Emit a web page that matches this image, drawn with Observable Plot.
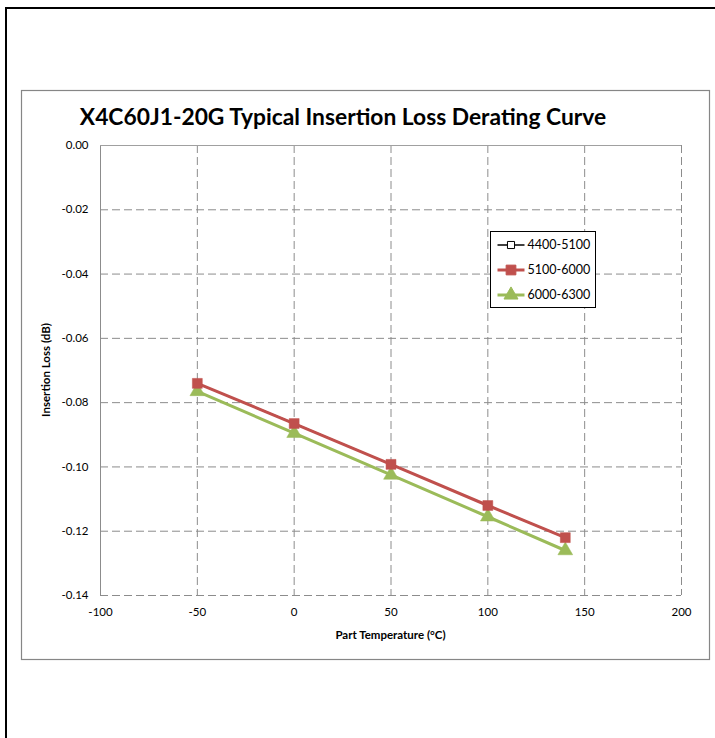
<!DOCTYPE html>
<html>
<head>
<meta charset="utf-8">
<script src="https://cdn.jsdelivr.net/npm/d3@7"></script>
<script src="https://cdn.jsdelivr.net/npm/@observablehq/plot@0.6"></script>
<style>
  html, body { margin: 0; padding: 0; background: #fff; }
  svg { display: block; }
</style>
</head>
<body>
<div id="chart"></div>
<script>
const temperatures = [-50, 0, 50, 100, 140];
const loss4400_5100 = [-0.074, -0.0865, -0.0992, -0.112, -0.122];
const loss5100_6000 = [-0.074, -0.0865, -0.0992, -0.112, -0.122];
const loss6000_6300 = [-0.0765, -0.0895, -0.1025, -0.1155, -0.126];
const seriesNames = ["4400-5100", "5100-6000", "6000-6300"];
const xTicks = [-100, -50, 0, 50, 100, 150, 200];
const yTicks = [0, -0.02, -0.04, -0.06, -0.08, -0.10, -0.12, -0.14];
const titleText = "X4C60J1-20G Typical Insertion Loss Derating Curve";
const xLabel = "Part Temperature (\u00B0C)";
const yLabel = "Insertion Loss (dB)";

const toRows = (vals, name) => temperatures.map((t, i) => ({t, v: vals[i], s: name}));
const black = toRows(loss4400_5100, seriesNames[0]);
const red = toRows(loss5100_6000, seriesNames[1]);
const green = toRows(loss6000_6300, seriesNames[2]);

const FONT = "Lato, 'Open Sans', sans-serif";
const W = 715, H = 738;
const mL = 100, mR = 34, mT = 145, mB = 143;

const chart = Plot.plot({
  width: W, height: H,
  marginLeft: mL, marginRight: mR, marginTop: mT, marginBottom: mB,
  style: {fontFamily: FONT, fontSize: "11px", color: "#000", background: "#fff"},
  x: {domain: [-100, 200], ticks: xTicks, tickSize: 0, tickPadding: 12, label: null, tickFormat: d => String(d)},
  y: {domain: [-0.14, 0], ticks: yTicks, tickSize: 0, tickPadding: 12, label: null, tickFormat: d => d.toFixed(2)},
  marks: [
    Plot.gridX(xTicks, {stroke: "#8c8c8c", strokeOpacity: 1, strokeDasharray: "8,4"}),
    Plot.gridY(yTicks, {stroke: "#8c8c8c", strokeOpacity: 1, strokeDasharray: "8,4"}),
    Plot.ruleX([-100], {stroke: "#8c8c8c"}),
    Plot.ruleY([0], {stroke: "#a0a0a0"}),
    Plot.axisX({ticks: xTicks, tickSize: 0, tickPadding: 12, tickFormat: d => String(d), fontSize: 11.5, label: null}),
    Plot.axisY({ticks: yTicks, tickSize: 0, tickPadding: 12, tickFormat: d => d.toFixed(2), fontSize: 11.5, label: null}),
    Plot.line(black, {x: "t", y: "v", stroke: "#000", strokeWidth: 1.5}),
    Plot.dot(black, {x: "t", y: "v", symbol: "square", r: 4, stroke: "#000", fill: "#fff", strokeWidth: 1}),
    Plot.line(green, {x: "t", y: "v", stroke: "#9BBB59", strokeWidth: 3}),
    Plot.dot(green, {x: "t", y: "v", symbol: "triangle", r: 5.5, fill: "#9BBB59", stroke: "#9BBB59", strokeWidth: 0.5}),
    Plot.line(red, {x: "t", y: "v", stroke: "#C0504D", strokeWidth: 3}),
    Plot.dot(red, {x: "t", y: "v", symbol: "square", r: 5.6, fill: "#C0504D", stroke: "#C0504D", strokeWidth: 0.5})
  ]
});

document.getElementById("chart").appendChild(chart);

const svg = d3.select(chart);
// Outer frames
svg.insert("rect", ":first-child")
  .attr("x", 6).attr("y", 8).attr("width", W + 20).attr("height", H + 20)
  .attr("fill", "none").attr("stroke", "#000").attr("stroke-width", 2);
svg.insert("rect", ":first-child")
  .attr("x", 21.5).attr("y", 90.5).attr("width", 688).attr("height", 569)
  .attr("fill", "none").attr("stroke", "#868686").attr("stroke-width", 1.2);

// Title
svg.append("text")
  .attr("x", 343).attr("y", 125)
  .attr("text-anchor", "middle")
  .attr("font-family", FONT).attr("font-weight", "bold").attr("font-size", 22.8)
  .attr("fill", "#000")
  .text(titleText);

// Axis labels
svg.append("text")
  .attr("x", (mL + (W - mR)) / 2).attr("y", 639)
  .attr("text-anchor", "middle")
  .attr("font-family", FONT).attr("font-weight", "bold").attr("font-size", 11.5)
  .attr("fill", "#000")
  .text(xLabel);
svg.append("text")
  .attr("transform", `translate(50, ${(mT + (H - mB)) / 2}) rotate(-90)`)
  .attr("text-anchor", "middle")
  .attr("font-family", FONT).attr("font-weight", "bold").attr("font-size", 11.5)
  .attr("fill", "#000")
  .text(yLabel);

// Legend
const lg = svg.append("g").attr("transform", "translate(490.5, 231.5)");
lg.append("rect").attr("width", 105).attr("height", 76)
  .attr("fill", "#fff").attr("stroke", "#000").attr("stroke-width", 1);
const legendStyles = [
  {color: "#000", w: 1.5, sym: d3.symbolSquare, fill: "#fff", size: 50},
  {color: "#C0504D", w: 3, sym: d3.symbolSquare, fill: "#C0504D", size: 95},
  {color: "#9BBB59", w: 3, sym: d3.symbolTriangle, fill: "#9BBB59", size: 85}
];
seriesNames.forEach((name, i) => {
  const yy = 13.5 + i * 25;
  const st = legendStyles[i];
  lg.append("line").attr("x1", 7).attr("x2", 34).attr("y1", yy).attr("y2", yy)
    .attr("stroke", st.color).attr("stroke-width", st.w);
  lg.append("path").attr("d", d3.symbol(st.sym, st.size)())
    .attr("transform", `translate(20.5, ${yy})`)
    .attr("fill", st.fill).attr("stroke", st.color).attr("stroke-width", 1);
  lg.append("text").attr("x", 37).attr("y", yy).attr("dy", "0.35em")
    .attr("text-anchor", "start")
    .attr("font-family", FONT).attr("font-size", 12.5).attr("fill", "#000")
    .text(name);
});
</script>
</body>
</html>
